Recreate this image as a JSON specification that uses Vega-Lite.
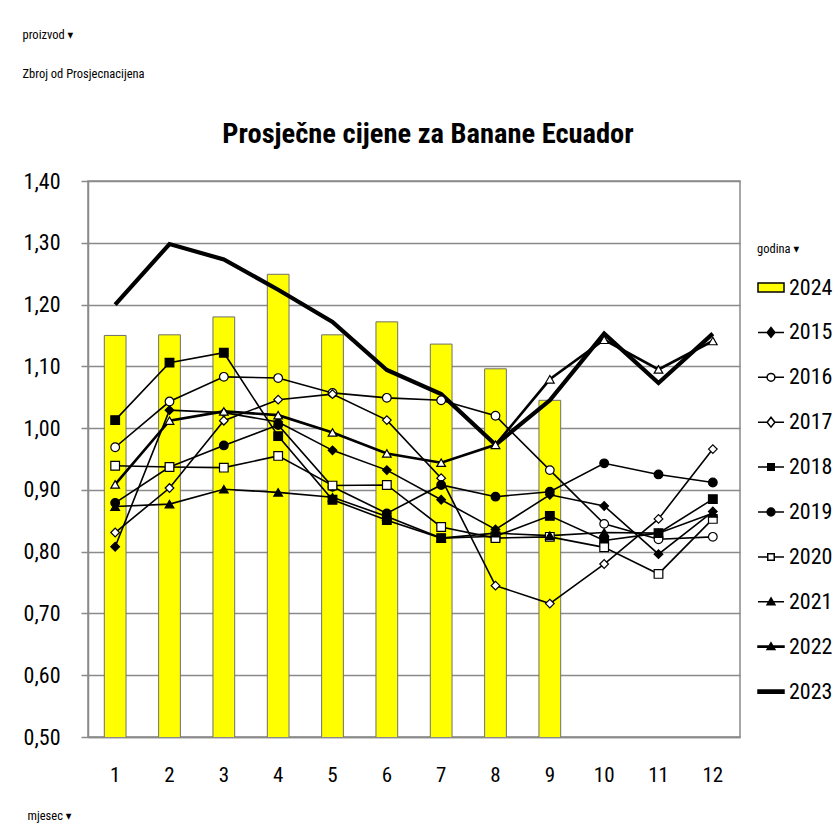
{
  "$schema": "https://vega.github.io/schema/vega-lite/v6.json",
  "width": 652,
  "height": 556,
  "autosize": {"type": "none"},
  "padding": {"left": 88, "top": 181, "right": 93, "bottom": 99},
  "background": "white",
  "config": {
    "font": "Liberation Sans Narrow, Roboto Condensed, DejaVu Sans Condensed, Roboto, sans-serif",
    "view": {"stroke": "#8a8a8a", "strokeWidth": 1.5}
  },
  "title": {
    "text": "Prosječne cijene za Banane Ecuador",
    "frame": "group",
    "anchor": "middle",
    "dx": 14,
    "dy": 143,
    "offset": 0,
    "baseline": "alphabetic",
    "fontSize": 28.5,
    "fontWeight": "bold",
    "font": "Liberation Sans Narrow, Roboto Condensed, DejaVu Sans Condensed, Roboto, sans-serif",
    "color": "black"
  },
  "data": {
    "values": [
      {"mjesec": 1, "godina": "2024", "cijena": 1.150},
      {"mjesec": 2, "godina": "2024", "cijena": 1.151},
      {"mjesec": 3, "godina": "2024", "cijena": 1.180},
      {"mjesec": 4, "godina": "2024", "cijena": 1.249},
      {"mjesec": 5, "godina": "2024", "cijena": 1.151},
      {"mjesec": 6, "godina": "2024", "cijena": 1.172},
      {"mjesec": 7, "godina": "2024", "cijena": 1.136},
      {"mjesec": 8, "godina": "2024", "cijena": 1.096},
      {"mjesec": 9, "godina": "2024", "cijena": 1.045},

      {"mjesec": 1, "godina": "2015", "cijena": 0.808},
      {"mjesec": 2, "godina": "2015", "cijena": 1.029},
      {"mjesec": 3, "godina": "2015", "cijena": 1.025},
      {"mjesec": 4, "godina": "2015", "cijena": 1.010},
      {"mjesec": 5, "godina": "2015", "cijena": 0.964},
      {"mjesec": 6, "godina": "2015", "cijena": 0.932},
      {"mjesec": 7, "godina": "2015", "cijena": 0.884},
      {"mjesec": 8, "godina": "2015", "cijena": 0.836},
      {"mjesec": 9, "godina": "2015", "cijena": 0.892},
      {"mjesec": 10, "godina": "2015", "cijena": 0.874},
      {"mjesec": 11, "godina": "2015", "cijena": 0.796},
      {"mjesec": 12, "godina": "2015", "cijena": 0.865},

      {"mjesec": 1, "godina": "2016", "cijena": 0.969},
      {"mjesec": 2, "godina": "2016", "cijena": 1.043},
      {"mjesec": 3, "godina": "2016", "cijena": 1.083},
      {"mjesec": 4, "godina": "2016", "cijena": 1.081},
      {"mjesec": 5, "godina": "2016", "cijena": 1.057},
      {"mjesec": 6, "godina": "2016", "cijena": 1.049},
      {"mjesec": 7, "godina": "2016", "cijena": 1.045},
      {"mjesec": 8, "godina": "2016", "cijena": 1.020},
      {"mjesec": 9, "godina": "2016", "cijena": 0.932},
      {"mjesec": 10, "godina": "2016", "cijena": 0.845},
      {"mjesec": 11, "godina": "2016", "cijena": 0.820},
      {"mjesec": 12, "godina": "2016", "cijena": 0.824},

      {"mjesec": 1, "godina": "2017", "cijena": 0.831},
      {"mjesec": 2, "godina": "2017", "cijena": 0.903},
      {"mjesec": 3, "godina": "2017", "cijena": 1.012},
      {"mjesec": 4, "godina": "2017", "cijena": 1.046},
      {"mjesec": 5, "godina": "2017", "cijena": 1.055},
      {"mjesec": 6, "godina": "2017", "cijena": 1.013},
      {"mjesec": 7, "godina": "2017", "cijena": 0.919},
      {"mjesec": 8, "godina": "2017", "cijena": 0.745},
      {"mjesec": 9, "godina": "2017", "cijena": 0.716},
      {"mjesec": 10, "godina": "2017", "cijena": 0.780},
      {"mjesec": 11, "godina": "2017", "cijena": 0.853},
      {"mjesec": 12, "godina": "2017", "cijena": 0.966},

      {"mjesec": 1, "godina": "2018", "cijena": 1.013},
      {"mjesec": 2, "godina": "2018", "cijena": 1.106},
      {"mjesec": 3, "godina": "2018", "cijena": 1.122},
      {"mjesec": 4, "godina": "2018", "cijena": 0.987},
      {"mjesec": 5, "godina": "2018", "cijena": 0.884},
      {"mjesec": 6, "godina": "2018", "cijena": 0.851},
      {"mjesec": 7, "godina": "2018", "cijena": 0.822},
      {"mjesec": 8, "godina": "2018", "cijena": 0.825},
      {"mjesec": 9, "godina": "2018", "cijena": 0.858},
      {"mjesec": 10, "godina": "2018", "cijena": 0.818},
      {"mjesec": 11, "godina": "2018", "cijena": 0.830},
      {"mjesec": 12, "godina": "2018", "cijena": 0.885},

      {"mjesec": 1, "godina": "2019", "cijena": 0.879},
      {"mjesec": 2, "godina": "2019", "cijena": 0.937},
      {"mjesec": 3, "godina": "2019", "cijena": 0.972},
      {"mjesec": 4, "godina": "2019", "cijena": 1.005},
      {"mjesec": 5, "godina": "2019", "cijena": 0.905},
      {"mjesec": 6, "godina": "2019", "cijena": 0.862},
      {"mjesec": 7, "godina": "2019", "cijena": 0.908},
      {"mjesec": 8, "godina": "2019", "cijena": 0.889},
      {"mjesec": 9, "godina": "2019", "cijena": 0.897},
      {"mjesec": 10, "godina": "2019", "cijena": 0.943},
      {"mjesec": 11, "godina": "2019", "cijena": 0.925},
      {"mjesec": 12, "godina": "2019", "cijena": 0.912},

      {"mjesec": 1, "godina": "2020", "cijena": 0.939},
      {"mjesec": 2, "godina": "2020", "cijena": 0.937},
      {"mjesec": 3, "godina": "2020", "cijena": 0.936},
      {"mjesec": 4, "godina": "2020", "cijena": 0.955},
      {"mjesec": 5, "godina": "2020", "cijena": 0.907},
      {"mjesec": 6, "godina": "2020", "cijena": 0.908},
      {"mjesec": 7, "godina": "2020", "cijena": 0.840},
      {"mjesec": 8, "godina": "2020", "cijena": 0.822},
      {"mjesec": 9, "godina": "2020", "cijena": 0.824},
      {"mjesec": 10, "godina": "2020", "cijena": 0.807},
      {"mjesec": 11, "godina": "2020", "cijena": 0.764},
      {"mjesec": 12, "godina": "2020", "cijena": 0.853},

      {"mjesec": 1, "godina": "2021", "cijena": 0.873},
      {"mjesec": 2, "godina": "2021", "cijena": 0.877},
      {"mjesec": 3, "godina": "2021", "cijena": 0.901},
      {"mjesec": 4, "godina": "2021", "cijena": 0.896},
      {"mjesec": 5, "godina": "2021", "cijena": 0.888},
      {"mjesec": 6, "godina": "2021", "cijena": 0.857},
      {"mjesec": 7, "godina": "2021", "cijena": 0.822},
      {"mjesec": 8, "godina": "2021", "cijena": 0.830},
      {"mjesec": 9, "godina": "2021", "cijena": 0.826},
      {"mjesec": 10, "godina": "2021", "cijena": 0.831},
      {"mjesec": 11, "godina": "2021", "cijena": 0.830},
      {"mjesec": 12, "godina": "2021", "cijena": 0.862},

      {"mjesec": 1, "godina": "2022", "cijena": 0.909},
      {"mjesec": 2, "godina": "2022", "cijena": 1.012},
      {"mjesec": 3, "godina": "2022", "cijena": 1.027},
      {"mjesec": 4, "godina": "2022", "cijena": 1.021},
      {"mjesec": 5, "godina": "2022", "cijena": 0.993},
      {"mjesec": 6, "godina": "2022", "cijena": 0.959},
      {"mjesec": 7, "godina": "2022", "cijena": 0.944},
      {"mjesec": 8, "godina": "2022", "cijena": 0.973},
      {"mjesec": 9, "godina": "2022", "cijena": 1.079},
      {"mjesec": 10, "godina": "2022", "cijena": 1.143},
      {"mjesec": 11, "godina": "2022", "cijena": 1.095},
      {"mjesec": 12, "godina": "2022", "cijena": 1.141},

      {"mjesec": 1, "godina": "2023", "cijena": 1.200},
      {"mjesec": 2, "godina": "2023", "cijena": 1.298},
      {"mjesec": 3, "godina": "2023", "cijena": 1.273},
      {"mjesec": 4, "godina": "2023", "cijena": 1.224},
      {"mjesec": 5, "godina": "2023", "cijena": 1.172},
      {"mjesec": 6, "godina": "2023", "cijena": 1.094},
      {"mjesec": 7, "godina": "2023", "cijena": 1.055},
      {"mjesec": 8, "godina": "2023", "cijena": 0.973},
      {"mjesec": 9, "godina": "2023", "cijena": 1.045},
      {"mjesec": 10, "godina": "2023", "cijena": 1.153},
      {"mjesec": 11, "godina": "2023", "cijena": 1.073},
      {"mjesec": 12, "godina": "2023", "cijena": 1.153}
    ]
  },
  "encoding": {
    "x": {
      "field": "mjesec",
      "type": "ordinal",
      "scale": {"paddingInner": 0, "paddingOuter": 0},
      "axis": {
        "labelAngle": 0,
        "labelFontSize": 21,
        "labelColor": "black",
        "labelPadding": 27,
        "ticks": false,
        "domainColor": "#8a8a8a",
        "domainWidth": 1.5,
        "grid": false,
        "title": "mjesec ▾",
        "titleX": -61,
        "titleY": 78,
        "titleAlign": "left",
        "titleBaseline": "middle",
        "titleFontSize": 12.5,
        "titleFontWeight": "normal",
        "titleColor": "black"
      }
    },
    "y": {
      "field": "cijena",
      "type": "quantitative",
      "scale": {"domain": [0.5, 1.4], "nice": false, "zero": false},
      "axis": {
        "values": [0.5, 0.6, 0.7, 0.8, 0.9, 1.0, 1.1, 1.2, 1.3, 1.4],
        "labelExpr": "replace(format(datum.value, '.2f'), '.', ',')",
        "labelFontSize": 22,
        "labelColor": "black",
        "labelPadding": 21,
        "tickSize": 7,
        "tickColor": "#8a8a8a",
        "tickWidth": 1.5,
        "domainColor": "#8a8a8a",
        "domainWidth": 1.5,
        "grid": true,
        "gridColor": "#8a8a8a",
        "gridWidth": 1.5,
        "title": ["proizvod ▾", "Zbroj od Prosjecnacijena"],
        "titleAngle": 0,
        "titleAlign": "left",
        "titleBaseline": "top",
        "titleX": -66,
        "titleY": -153,
        "titleLineHeight": 39,
        "titleFontSize": 12.5,
        "titleFontWeight": "normal",
        "titleColor": "black"
      }
    }
  },
  "layer": [
    {
      "transform": [{"filter": {"field": "godina", "equal": "2024"}}],
      "mark": {"type": "bar", "fill": "#FFFF00", "stroke": "#6f6f6f", "strokeWidth": 1, "width": {"band": 0.4}, "clip": true}
    },
    {
      "transform": [{"filter": {"field": "godina", "oneOf": ["2015", "2016", "2017", "2018", "2019", "2020", "2021"]}}],
      "mark": {"type": "line", "color": "black", "strokeWidth": 1.6},
      "encoding": {"detail": {"field": "godina", "type": "nominal"}}
    },
    {
      "transform": [{"filter": {"field": "godina", "equal": "2022"}}],
      "mark": {"type": "line", "color": "black", "strokeWidth": 2.6},
      "encoding": {}
    },
    {
      "transform": [{"filter": {"field": "godina", "equal": "2023"}}],
      "mark": {"type": "line", "color": "black", "strokeWidth": 4.2},
      "encoding": {}
    },
    {
      "transform": [{"filter": {"field": "godina", "oneOf": ["2015", "2016", "2017", "2018", "2019", "2020", "2021", "2022"]}}],
      "mark": {"type": "point", "filled": true, "stroke": "black", "strokeWidth": 1.2, "size": 75, "opacity": 1},
      "encoding": {
        "shape": {
          "field": "godina",
          "type": "nominal",
          "scale": {
            "domain": ["2015", "2016", "2017", "2018", "2019", "2020", "2021", "2022"],
            "range": ["diamond", "circle", "diamond", "square", "circle", "square", "triangle-up", "triangle-up"]
          },
          "legend": null
        },
        "fill": {
          "field": "godina",
          "type": "nominal",
          "scale": {
            "domain": ["2015", "2016", "2017", "2018", "2019", "2020", "2021", "2022"],
            "range": ["black", "white", "white", "black", "black", "white", "black", "white"]
          },
          "legend": null
        }
      }
    },
    {
      "mark": {"type": "point", "filled": true, "stroke": "black", "strokeWidth": 1.5, "opacity": 0},
      "encoding": {
        "shape": {
          "field": "godina",
          "type": "nominal",
          "scale": {
            "domain": ["2024", "2015", "2016", "2017", "2018", "2019", "2020", "2021", "2022", "2023"],
            "range": [
              "M-1,-0.35H1V0.35H-1Z",
              "M-1,0H-0.3M0.3,0H1M0,-0.38L0.3,0L0,0.38L-0.3,0Z",
              "M-1,0H-0.3M0.3,0H1M0.3,0A0.3,0.3 0 1,1 -0.3,0A0.3,0.3 0 1,1 0.3,0Z",
              "M-1,0H-0.3M0.3,0H1M0,-0.38L0.3,0L0,0.38L-0.3,0Z",
              "M-1,0H-0.25M0.25,0H1M-0.25,-0.25H0.25V0.25H-0.25Z",
              "M-1,0H-0.3M0.3,0H1M0.3,0A0.3,0.3 0 1,1 -0.3,0A0.3,0.3 0 1,1 0.3,0Z",
              "M-1,0H-0.25M0.25,0H1M-0.25,-0.25H0.25V0.25H-0.25Z",
              "M-1,0H-0.17M0.17,0H1M0,-0.3L0.3,0.22L-0.3,0.22Z",
              "M-1,-0.05H-0.17V0.05H-1ZM0.17,-0.05H1V0.05H0.17ZM0,-0.3L0.3,0.22L-0.3,0.22Z",
              "M-1,-0.12H1V0.12H-1Z"
            ]
          },
          "legend": {
            "title": "godina   ▾",
            "orient": "none",
            "legendX": 669,
            "legendY": 62,
            "padding": 0,
            "titleFontSize": 12.5,
            "titleFontWeight": "normal",
            "titleColor": "black",
            "titlePadding": 18,
            "labelFontSize": 22,
            "labelColor": "black",
            "labelOffset": 4,
            "symbolSize": 676,
            "symbolStrokeWidth": 1.5,
            "symbolOpacity": 1,
            "rowPadding": 19.9
          }
        },
        "fill": {
          "field": "godina",
          "type": "nominal",
          "scale": {
            "domain": ["2024", "2015", "2016", "2017", "2018", "2019", "2020", "2021", "2022", "2023"],
            "range": ["#FFFF00", "black", "white", "white", "black", "black", "white", "black", "black", "black"]
          },
          "legend": {
            "title": "godina   ▾",
            "orient": "none",
            "legendX": 669,
            "legendY": 62,
            "padding": 0,
            "titleFontSize": 12.5,
            "titleFontWeight": "normal",
            "titleColor": "black",
            "titlePadding": 18,
            "labelFontSize": 22,
            "labelColor": "black",
            "labelOffset": 4,
            "symbolSize": 676,
            "symbolStrokeWidth": 1.5,
            "symbolOpacity": 1,
            "rowPadding": 19.9
          }
        }
      }
    }
  ],
  "resolve": {"scale": {"shape": "independent", "fill": "independent"}}
}
